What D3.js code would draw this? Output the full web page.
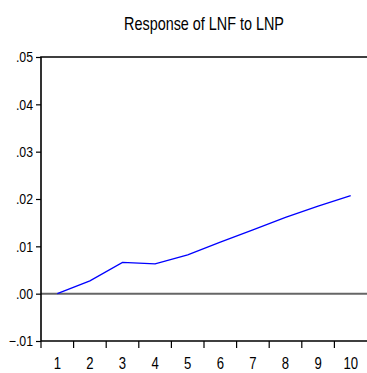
<!DOCTYPE html>
<html>
<head>
<meta charset="utf-8">
<script src="https://cdn.jsdelivr.net/npm/d3@7"></script>
<style>
  body { margin: 0; background: #fff; }
  text { font-family: "Liberation Sans", Arial, sans-serif; fill: #000; }
</style>
</head>
<body>
<div id="chart"></div>
<script>
// periods and impulse response values
const periods = [1, 2, 3, 4, 5, 6, 7, 8, 9, 10];
const response = [0.0, 0.0027, 0.0066, 0.0063, 0.0082, 0.0109, 0.0135, 0.0161, 0.0185, 0.0207];
const yTicks = [-0.01, 0.0, 0.01, 0.02, 0.03, 0.04, 0.05];

const W = 367, H = 373;
const margin = { top: 57, right: 0, bottom: 32, left: 41 };

const svg = d3.select('#chart').append('svg')
  .attr('width', W)
  .attr('height', H);

const x = d3.scaleBand()
  .domain(periods)
  .range([margin.left, W - margin.right]);

const y = d3.scaleLinear()
  .domain([-0.01, 0.05])
  .range([H - margin.bottom, margin.top]);

// condensed look (narrow font is not installed)
function narrow(sel, px, py, sx) {
  sel.attr('x', 0).attr('y', 0)
    .attr('transform', (d, i) => `translate(${px(d, i)},${py(d, i)}) scale(${sx},1)`);
}

// title
svg.append('text')
  .attr('text-anchor', 'middle')
  .style('font-size', '18px')
  .text('Response of LNF to LNP')
  .call(narrow, () => (margin.left + W) / 2, () => 30, 0.8);

// zero line
svg.append('line')
  .attr('x1', margin.left).attr('x2', W)
  .attr('y1', y(0)).attr('y2', y(0))
  .attr('stroke', '#666')
  .attr('stroke-width', 2);

// y axis
const yAxis = svg.append('g')
  .attr('transform', `translate(${margin.left},0)`)
  .call(d3.axisLeft(y).tickValues(yTicks).tickSize(5).tickPadding(3)
    .tickFormat(d => d3.format('.2f')(d).replace('0.', '.')));
yAxis.select('.domain').remove();
yAxis.selectAll('.tick line').attr('stroke-width', 1.2);
yAxis.selectAll('text')
  .style('font-size', '14px')
  .attr('dy', null)
  .attr('dominant-baseline', 'central')
  .call(narrow, () => -8, () => 0, 0.88);

// x axis: ticks on band edges, labels in band centers
const xAxis = svg.append('g')
  .attr('transform', `translate(0,${H - margin.bottom})`);
xAxis.selectAll('line')
  .data(periods)
  .enter().append('line')
  .attr('x1', d => x(d)).attr('x2', d => x(d))
  .attr('y1', 0).attr('y2', 7)
  .attr('stroke', '#000')
  .attr('stroke-width', 1.2);
xAxis.selectAll('text')
  .data(periods)
  .enter().append('text')
  .attr('text-anchor', 'middle')
  .style('font-size', '16px')
  .text(d => d)
  .call(narrow, d => x(d) + x.bandwidth() / 2, () => 28, 0.82);

// frame: left, top, bottom
svg.append('path')
  .attr('d', `M${W},${margin.top}H${margin.left}V${H - margin.bottom}H${W}`)
  .attr('fill', 'none')
  .attr('stroke', '#000')
  .attr('stroke-width', 1.6);

// response line
const line = d3.line()
  .x((d, i) => x(periods[i]) + x.bandwidth() / 2)
  .y(d => y(d));

svg.append('path')
  .datum(response)
  .attr('d', line)
  .attr('fill', 'none')
  .attr('stroke', '#0000ff')
  .attr('stroke-width', 1.3);
</script>
</body>
</html>
